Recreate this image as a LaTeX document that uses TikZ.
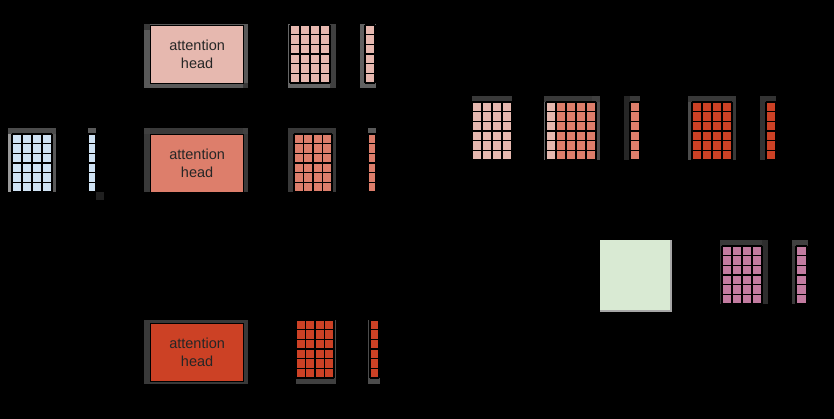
\documentclass[tikz,border=0pt]{standalone}
\usepackage{fontspec}
\setmainfont{Liberation Sans}
\definecolor{lblue}{HTML}{CFE2F3}
\definecolor{lpink}{HTML}{E6B8AF}
\definecolor{salmon}{HTML}{DD7E6B}
\definecolor{redb}{HTML}{CC4125}
\definecolor{lgreen}{HTML}{D9EAD3}
\definecolor{magn}{HTML}{C27BA0}
\definecolor{txt}{HTML}{262626}
\newcommand\cellgrid[7]{%
  \fill[#7] (#1,#2) rectangle ({#1+#3*#5},{#2+#4*#6});
  \foreach \ii in {0,...,#3}{\draw[gridln] ({#1+\ii*#5},#2) -- ({#1+\ii*#5},{#2+#4*#6});}
  \foreach \jj in {0,...,#4}{\draw[gridln] (#1,{#2+\jj*#6}) -- ({#1+#3*#5},{#2+\jj*#6});}
}
\begin{document}
\begin{tikzpicture}[x=1pt,y=-1pt,
  gridln/.style={black,line width=1.25pt},
  headbox/.style={draw=black,line width=1.2pt,minimum width=93pt,minimum height=58pt,anchor=north west,inner sep=0pt,align=center,text=txt,font=\fontsize{14.5}{18}\selectfont}]
\useasboundingbox (0,0) rectangle (834,419);
\fill[black] (0,0) rectangle (834,419);
% input matrix
\fill[gray!60!black] (8,128) rectangle (56,134);
\fill[gray!80] (8,134) rectangle (12,192);
\fill[gray!70!black] (52,134) rectangle (56,192);
\cellgrid{12}{134}{4}{6}{10}{9.667}{lblue}
% input vector
\fill[gray!70!black] (88,128) rectangle (96,134);
\cellgrid{88}{134}{1}{6}{8}{9.667}{lblue}
\fill[black!88] (96,192) rectangle (104,200);
% head 1
\fill[gray!70!black] (144,24) rectangle (248,88);
\fill[gray!45!black] (144,24) rectangle (150,30);
\fill[gray!45!black] (243,83) rectangle (248,88);
\node[headbox,fill=lpink] (h1) at (150,25) {attention\\head};
\fill[gray!80!black] (288,24) rectangle (336,88);
\fill[black!75] (330,24) rectangle (336,88);
\cellgrid{290}{25}{4}{6}{10}{9.667}{lpink}
\fill[gray!75!black] (360,24) rectangle (376,88);
\cellgrid{365}{25}{1}{6}{10}{9.667}{lpink}
% head 2
\fill[gray!45!black] (144,128) rectangle (248,192);
\fill[black!75] (144,128) rectangle (150,134);
\fill[black!75] (243,128) rectangle (248,134);
\node[headbox,fill=salmon] (h2) at (150,134) {attention\\head};
\fill[gray!45!black] (288,128) rectangle (336,192);
\cellgrid{294}{134}{4}{6}{9.5}{9.667}{salmon}
\fill[gray!70!black] (368,128) rectangle (376,134);
\cellgrid{368}{134}{1}{6}{8}{9.667}{salmon}
% head 3
\fill[gray!45!black] (144,320) rectangle (248,384);
\node[headbox,fill=redb] (h3) at (150,322.5) {attention\\head};
\fill[black!75] (296,378) rectangle (336,384);
\fill[black!70] (334,320) rectangle (336,378);
\cellgrid{296}{320}{4}{6}{9.5}{9.667}{redb}
\fill[black!70] (368,320) rectangle (380,384);
\cellgrid{370}{320}{1}{6}{9}{9.667}{redb}
% right top row
\fill[gray!45!black] (472,96) rectangle (512,102);
\cellgrid{472}{102}{4}{6}{10}{9.667}{lpink}
\fill[gray!45!black] (544,96) rectangle (600,102);
\fill[black!75] (592,96) rectangle (600,102);
\fill[gray!80!black] (544,102) rectangle (546,160);
\fill[gray!60!black] (596,102) rectangle (600,160);
\cellgrid{546}{102}{1}{6}{10}{9.667}{lpink}
\cellgrid{556}{102}{4}{6}{10}{9.667}{salmon}
\fill[black!85] (624,96) rectangle (630,160);
\fill[gray!45!black] (630,96) rectangle (640,102);
\cellgrid{630}{102}{1}{6}{10}{9.667}{salmon}
\fill[black!78] (688,96) rectangle (736,102);
\fill[black!70] (688,102) rectangle (692,160);
\fill[gray!45!black] (732,102) rectangle (736,160);
\cellgrid{692}{102}{4}{6}{10}{9.667}{redb}
\fill[black!80] (760,96) rectangle (766,160);
\fill[gray!40!black] (766,96) rectangle (776,102);
\cellgrid{766}{102}{1}{6}{10}{9.667}{redb}
% bottom right
\fill[gray!70] (600,240) rectangle (672,312);
\fill[lgreen] (600,240) rectangle (670,310);
\fill[gray!45!black] (720,240) rectangle (762,246);
\fill[gray!45!black] (720,246) rectangle (722,304);
\fill[black!82] (762,240) rectangle (768,304);
\cellgrid{722}{246}{4}{6}{10}{9.667}{magn}
\fill[black!75] (792,240) rectangle (808,246);
\fill[gray!45!black] (792,246) rectangle (796,304);
\cellgrid{796}{246}{1}{6}{11}{9.667}{magn}
\end{tikzpicture}
\end{document}
